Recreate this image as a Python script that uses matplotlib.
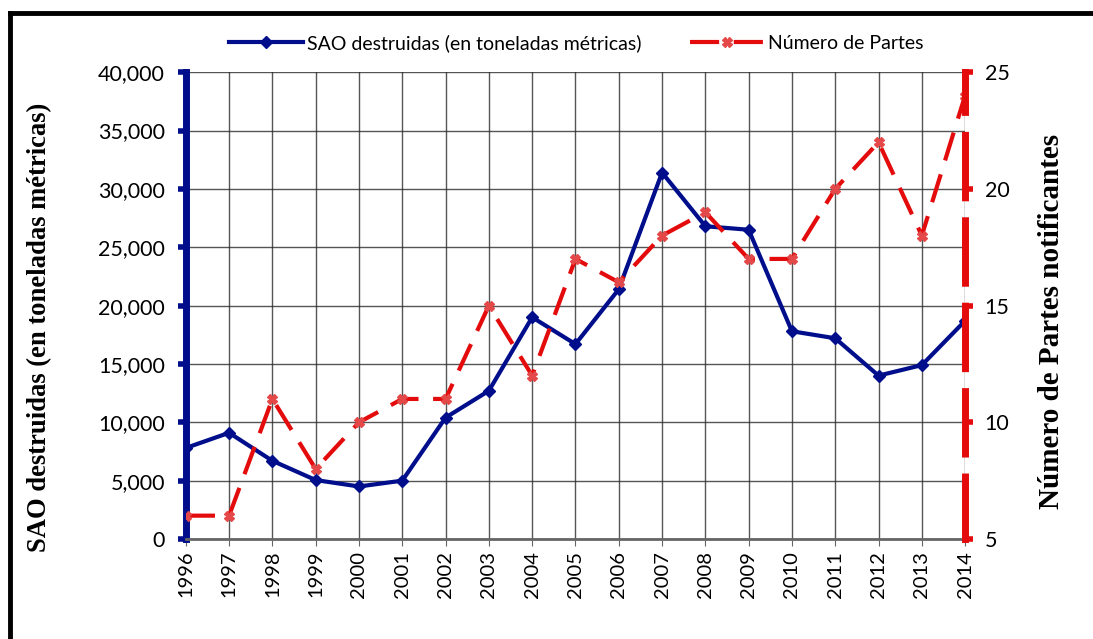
import matplotlib.pyplot as plt
from matplotlib.lines import Line2D
from matplotlib.ticker import FuncFormatter

# datos
anios = list(range(1996, 2015))
sao_destruidas = [7800, 9100, 6700, 5050, 4500, 5000, 10400, 12700, 19000, 16700,
                  21400, 31400, 26800, 26500, 17800, 17200, 14000, 14900, 18700]
num_partes = [6, 6, 11, 8, 10, 11, 11, 15, 12, 17, 16, 18, 19, 17, 17, 20, 22, 18, 24]

azul = '#000e8c'
rojo = '#e30b0b'
fuente = 'Lato'

fig = plt.figure(figsize=(10.93, 6.39), dpi=100)
ax = fig.add_axes([0.170, 0.1565, 0.713, 0.7305])
ax2 = ax.twinx()

l1, = ax.plot(anios, sao_destruidas, color=azul, lw=3, marker='D', ms=6,
              label='SAO destruidas (en toneladas métricas)', zorder=3)
l2, = ax2.plot(anios, num_partes, color=rojo, lw=3, dashes=(7, 3.5), marker='X', ms=7,
               mfc='#e44848', mec='#e44848', label='Número de Partes', zorder=2)

ax.set_xlim(1996, 2014)
ax.set_ylim(0, 40000)
ax2.set_ylim(5, 25)
ax.set_yticks(range(0, 40001, 5000))
ax2.set_yticks(range(5, 26, 5))
ax.set_xticks(anios)
ax.set_xticklabels([str(a) for a in anios], rotation=90, fontsize=14.5, family=fuente)
ax.yaxis.set_major_formatter(FuncFormatter(lambda v, p: '{:,.0f}'.format(v)))
for t in ax.get_yticklabels() + ax2.get_yticklabels():
    t.set_fontsize(15.5)
    t.set_family(fuente)

ax.grid(True, color='#2a2a2a', lw=1, alpha=0.8)
ax.set_axisbelow(True)

# ejes
ax.spines['left'].set_color(azul)
ax.spines['left'].set_linewidth(5)
ax.spines['top'].set_visible(False)
ax.spines['right'].set_visible(False)
ax.spines['bottom'].set_color('#666666')
ax.spines['bottom'].set_linewidth(2)
ax2.spines['left'].set_visible(False)
ax2.spines['top'].set_visible(False)
ax2.spines['bottom'].set_visible(False)
ax2.spines['right'].set_color(rojo)
ax2.spines['right'].set_linewidth(5)
ax2.spines['right'].set_linestyle((0, (9, 3.3)))
ax.tick_params(axis='y', colors=azul, width=4, length=6, labelcolor='black', pad=9)
ax2.tick_params(axis='y', colors=rojo, width=4, length=6, labelcolor='black', pad=8)
ax.tick_params(axis='x', color='#666666', length=5, labelcolor='black')

ax.set_ylabel('SAO destruidas (en toneladas métricas)', family='Liberation Serif',
              fontweight='bold', fontsize=19.2)
ax.yaxis.set_label_coords(-0.172, 0.454)
ax2.set_ylabel('Número de Partes notificantes', family='Liberation Serif',
               fontweight='bold', fontsize=21, rotation=90)
ax2.yaxis.set_label_coords(1.094, 0.467)

fig.legend(handles=[l1, l2], loc='center', bbox_to_anchor=(0.527, 0.933), ncol=2,
           frameon=False, prop={'family': fuente, 'size': 14}, handlelength=3.8,
           columnspacing=2.5, handletextpad=0.2)

# marco negro alrededor
fig.add_artist(Line2D([10 / 1093, 10 / 1093], [0, 1 - 13 / 639], color='black', lw=3.5))
fig.add_artist(Line2D([10 / 1093, 1], [1 - 13 / 639, 1 - 13 / 639], color='black', lw=3.5))

fig.savefig('out.png', dpi=100)
